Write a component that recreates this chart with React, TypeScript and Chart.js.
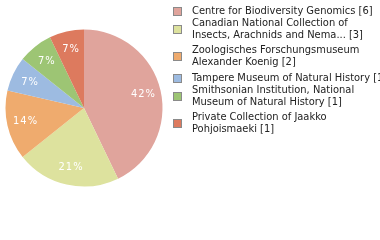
import React, { useEffect, useRef } from "react";
import { Chart, registerables } from "chart.js";

Chart.register(...registerables);

const categories = [
  "Centre for Biodiversity Genomics",
  "Canadian National Collection of Insects, Arachnids and Nematodes",
  "Zoologisches Forschungsmuseum Alexander Koenig",
  "Tampere Museum of Natural History",
  "Smithsonian Institution, National Museum of Natural History",
  "Private Collection of Jaakko Pohjoismaeki",
];
const counts = [6, 3, 2, 1, 1, 1];
const legendLines = [
  ["Centre for Biodiversity Genomics [6]"],
  ["Canadian National Collection of", "Insects, Arachnids and Nema... [3]"],
  ["Zoologisches Forschungsmuseum", "Alexander Koenig [2]"],
  ["Tampere Museum of Natural History [1]"],
  ["Smithsonian Institution, National", "Museum of Natural History [1]"],
  ["Private Collection of Jaakko", "Pohjoismaeki [1]"],
];
const colors = ["#e0a49c", "#dde29e", "#efab6e", "#9dbbe1", "#9dc574", "#dd7a5e"];

const FONT = '"DejaVu Sans Condensed", "DejaVu Sans", sans-serif';

const pctLabels = {
  id: "pctLabels",
  afterDatasetsDraw(chart: any) {
    const ctx = chart.ctx;
    const meta = chart.getDatasetMeta(0);
    const total = counts.reduce((a, b) => a + b, 0);
    ctx.save();
    ctx.fillStyle = "#ffffff";
    ctx.font = `11px ${FONT}`;
    (ctx as any).letterSpacing = "1px";
    ctx.textAlign = "center";
    ctx.textBaseline = "middle";
    meta.data.forEach((arc: any, i: number) => {
      const p = arc.getProps(["x", "y", "startAngle", "endAngle", "outerRadius"], true);
      const mid = (p.startAngle + p.endAngle) / 2;
      const r = p.outerRadius * 0.77;
      const x = p.x + Math.cos(mid) * r;
      const y = p.y + Math.sin(mid) * r;
      const pct = Math.floor((counts[i] / total) * 100);
      ctx.fillText(pct + "%", x + 0.5, y);
    });
    ctx.restore();
  },
};

const sideLegend = {
  id: "sideLegend",
  afterDraw(chart: any) {
    const ctx = chart.ctx;
    ctx.save();
    ctx.font = `11px ${FONT}`;
    ctx.textBaseline = "middle";
    ctx.textAlign = "left";
    let y = 11;
    const lh = 12;
    legendLines.forEach((lines, i) => {
      const n = lines.length;
      const center = y + ((n - 1) * lh) / 2;
      ctx.fillStyle = colors[i];
      ctx.fillRect(174, Math.round(center - 3.5), 7, 7);
      ctx.strokeStyle = "#8a8a8a";
      ctx.lineWidth = 1;
      ctx.strokeRect(173.5, Math.round(center - 3.5) - 0.5, 8, 8);
      ctx.fillStyle = "#222222";
      lines.forEach((t, k) => ctx.fillText(t, 192, y + k * lh));
      y += n * lh + (n > 1 ? 3.5 : 0);
    });
    ctx.restore();
  },
};

export default function App() {
  const ref = useRef<HTMLCanvasElement | null>(null);
  useEffect(() => {
    if (!ref.current) return;
    const chart = new Chart(ref.current, {
      type: "pie",
      data: {
        labels: categories,
        datasets: [
          {
            data: counts,
            backgroundColor: colors,
            borderWidth: 0,
          },
        ],
      },
      options: {
        responsive: false,
        animation: false,
        layout: { padding: { left: 5.5, top: 29.5, right: 217.5, bottom: 53.5 } },
        plugins: { legend: { display: false }, tooltip: { enabled: false } },
      },
      plugins: [pctLabels, sideLegend],
    });
    return () => chart.destroy();
  }, []);
  return (
    <div style={{ position: "fixed", left: 0, top: 0, width: 380, height: 240, background: "#fff" }}>
      <canvas ref={ref} width={380} height={240} style={{ width: 380, height: 240, display: "block" }} />
    </div>
  );
}
